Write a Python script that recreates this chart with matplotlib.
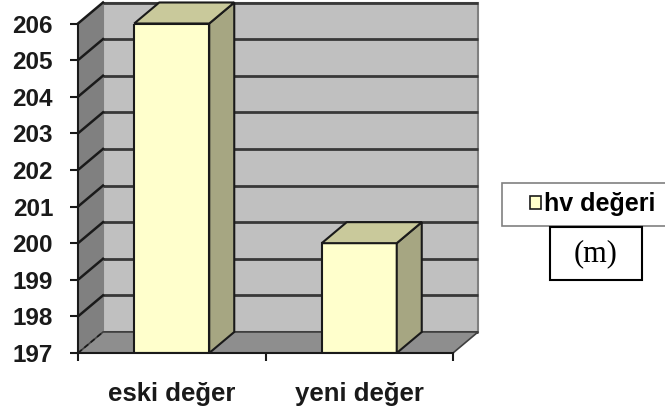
import matplotlib.pyplot as plt
from matplotlib.patches import Polygon, Rectangle, Patch
from matplotlib.transforms import Affine2D, IdentityTransform

categories = ["eski değer", "yeni değer"]
values = [206, 200]
series_name = "hv değeri"
unit_label = "(m)"
y_ticks = list(range(197, 207))

W, H = 665, 412
DX, DY = 25, 21  # depth of the box in pixels

plt.rcParams['font.family'] = ['Liberation Sans', 'DejaVu Sans']
fig = plt.figure(figsize=(W / 100, H / 100), dpi=100)
ax = fig.add_axes([78 / W, (H - 353) / H, 375 / W, (353 - 23.5) / H])
ax.set_xlim(0, len(categories))
ax.set_ylim(y_ticks[0], y_ticks[-1])
ax.patch.set_visible(False)

ymin, ymax = y_ticks[0], y_ticks[-1]
xmax = len(categories)
back = ax.transData + Affine2D().translate(DX, DY)
ident = IdentityTransform()


def proj(x, y, depth=0):
    px, py = ax.transData.transform((x, y))
    return (px + depth * DX, py + depth * DY)


# back wall and its gridlines
ax.add_patch(Rectangle((0, ymin), xmax, ymax - ymin, transform=back,
                       facecolor='#c0c0c0', edgecolor='#808080', lw=1.5,
                       zorder=0, clip_on=False))
ax.hlines(y_ticks, 0, xmax, transform=back, colors='#383838', lw=2,
          zorder=1, clip_on=False)

# left wall
ax.add_patch(Polygon([proj(0, ymin), proj(0, ymin, 1), proj(0, ymax, 1), proj(0, ymax)],
                     transform=ident, facecolor='#808080', edgecolor='none',
                     zorder=2, clip_on=False))
for t in y_ticks[1:]:
    a, b = proj(0, t), proj(0, t, 1)
    ax.plot([a[0], b[0]], [a[1], b[1]], transform=ident, color='#1a1a1a',
            lw=1.8, zorder=2.5, clip_on=False)

# floor
ax.add_patch(Polygon([proj(0, ymin), proj(xmax, ymin), proj(xmax, ymin, 1), proj(0, ymin, 1)],
                     transform=ident, facecolor='#8e8e8e', edgecolor='#404040', lw=1.2,
                     zorder=2, clip_on=False))
a, b = proj(0, ymin), proj(0, ymin, 1)
ax.plot([a[0], b[0]], [a[1], b[1]], transform=ident, color='#1a1a1a',
        lw=1.2, ls=(0, (3, 2)), zorder=2.5, clip_on=False)

# bars: front faces, then side and top faces
xs = [i + 0.5 for i in range(len(categories))]
bw = 0.4
ax.bar(xs, [v - ymin for v in values], bottom=ymin, width=bw,
       color='#ffffcc', edgecolor='#1a1a1a', lw=1.5, zorder=3)
for x, v in zip(xs, values):
    l, r = x - bw / 2, x + bw / 2
    ax.add_patch(Polygon([proj(r, ymin), proj(r, ymin, 1), proj(r, v, 1), proj(r, v)],
                         transform=ident, facecolor='#a6a682', edgecolor='#1a1a1a',
                         lw=1.5, zorder=3, clip_on=False))
    ax.add_patch(Polygon([proj(l, v), proj(r, v), proj(r, v, 1), proj(l, v, 1)],
                         transform=ident, facecolor='#c9c99b', edgecolor='#1a1a1a',
                         lw=1.5, zorder=3, clip_on=False))

# axes lines and ticks
for s in ['top', 'right']:
    ax.spines[s].set_visible(False)
for s in ['left', 'bottom']:
    ax.spines[s].set_color('#1a1a1a')
    ax.spines[s].set_linewidth(1.5)
    ax.spines[s].set_zorder(4)
ax.set_yticks(y_ticks)
ax.set_yticklabels([str(t) for t in y_ticks])
ax.tick_params(axis='y', direction='out', length=6, width=1.5, color='#1a1a1a',
               pad=12, labelsize=17.5)
ax.set_xticks(range(len(categories) + 1))
ax.set_xticklabels([])
ax.set_xticks(xs, minor=True)
ax.set_xticklabels(categories, minor=True)
ax.tick_params(axis='x', which='major', direction='out', length=6, width=1.5,
               color='#1a1a1a')
ax.tick_params(axis='x', which='minor', length=0, pad=21, labelsize=18.5)
for lab in ax.get_yticklabels() + ax.get_xticklabels(minor=True):
    lab.set_fontweight('bold')
    lab.set_color('#1a1a1a')

# legend with its frame
fig.patches.append(Rectangle((502, H - 226), 170, 43, transform=ident,
                             facecolor='white', edgecolor='#808080', lw=1.2))
fig.legend(handles=[Patch(facecolor='#ffffcc', edgecolor='#1a1a1a', lw=1.2, label=series_name)],
           loc='center left', bbox_to_anchor=(530 / W, 1 - 204.5 / H), frameon=False,
           borderpad=0, borderaxespad=0,
           handlelength=0.45, handleheight=0.42, handletextpad=0.1,
           prop={'weight': 'bold', 'size': 18})

# unit box
fig.patches.append(Rectangle((550, H - 280), 92, 53, transform=ident,
                             facecolor='white', edgecolor='black', lw=1.5))
fig.text(596 / W, 1 - 254 / H, unit_label, ha='center', va='center',
         family=['Liberation Serif', 'DejaVu Serif'], fontsize=22)

fig.savefig('out.png', dpi=100)
